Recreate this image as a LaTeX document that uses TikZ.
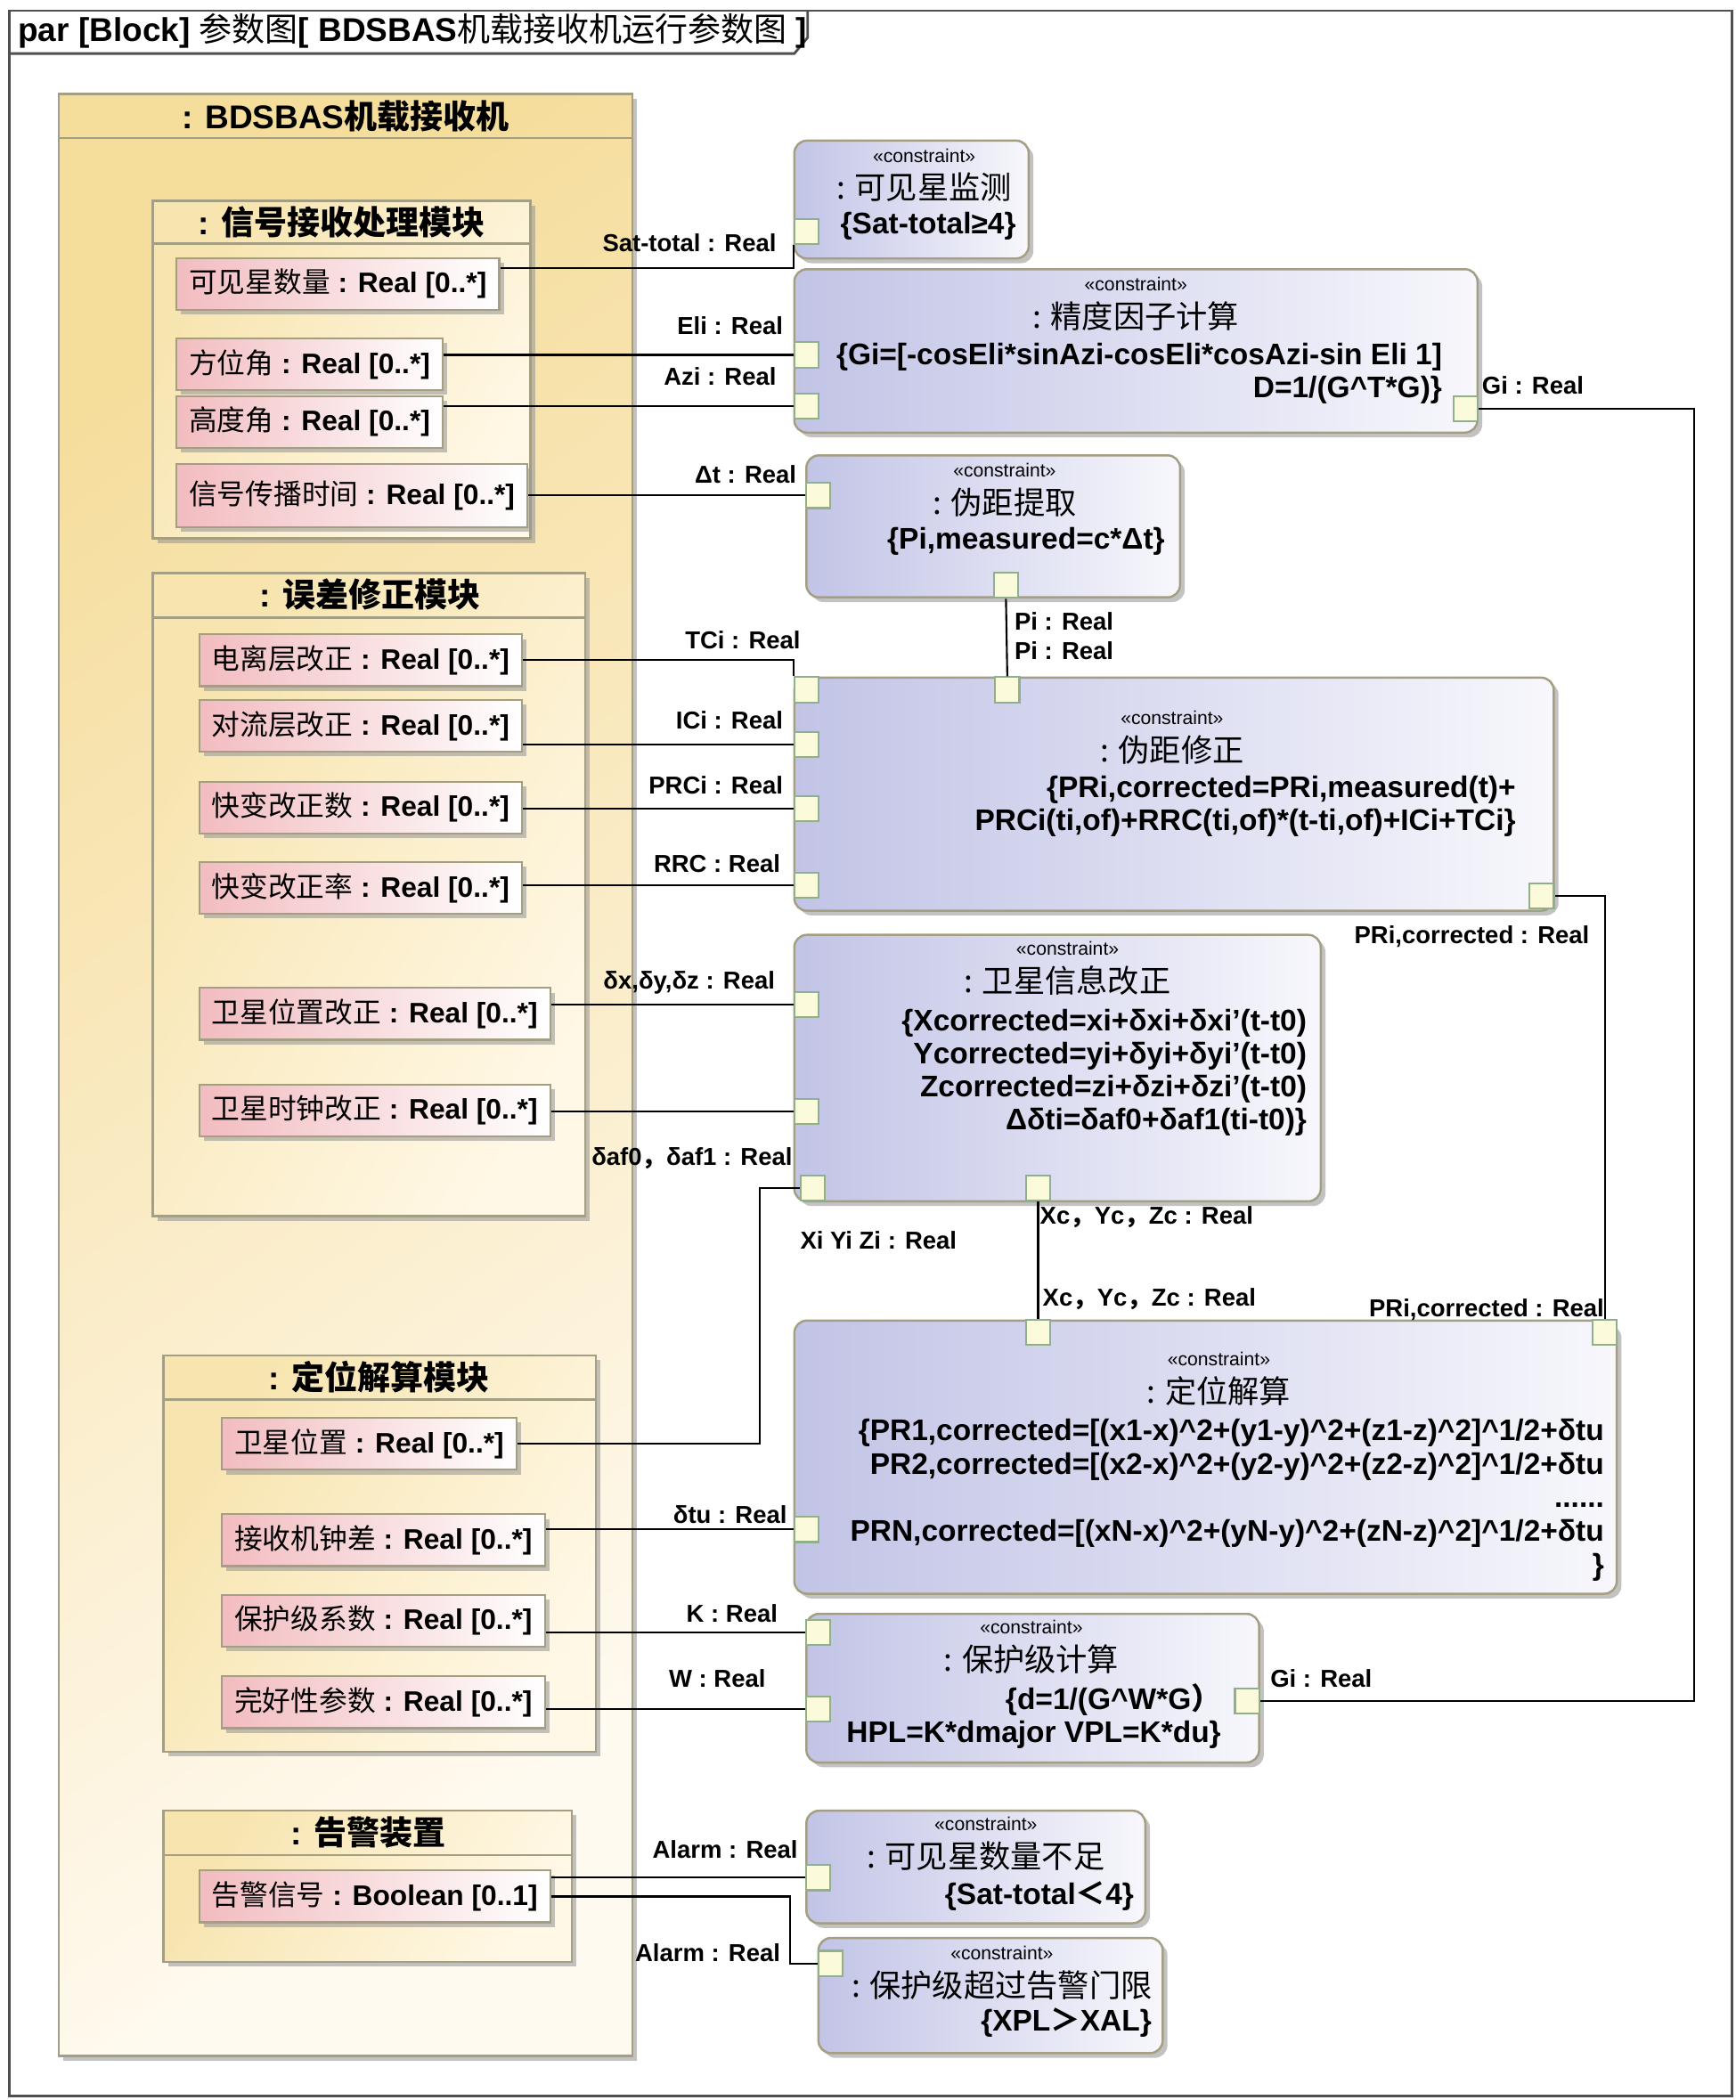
\documentclass[tikz,border=0pt]{standalone}
\usepackage{fontspec}
\setmainfont{Liberation Sans}
\newfontfamily\cjk{Noto Sans CJK SC}
\usepackage{tikz}
\usetikzlibrary{shapes,fit,calc,positioning,shadows}
\newcommand{\zh}[1]{{\cjk #1}}
\newcommand{\zhm}[1]{{\cjk\mdseries #1}}
\definecolor{frm}{HTML}{505050}
\definecolor{blkline}{HTML}{A49E82}
\definecolor{blkA}{HTML}{F5DD9C}
\definecolor{blkB}{HTML}{FFFAF0}
\definecolor{sblkA}{HTML}{F7E4AE}
\definecolor{sblkB}{HTML}{FFF8E6}
\definecolor{propA}{HTML}{F2BCC0}
\definecolor{consA}{HTML}{C2C4E6}
\definecolor{consB}{HTML}{F7F7FC}
\definecolor{portF}{HTML}{FBFBDC}
\definecolor{portD}{HTML}{8FB08A}
\definecolor{shd}{HTML}{9A9A9A}
\tikzset{shd/.style={drop shadow={shadow xshift=1.5pt,shadow yshift=-1.5pt,fill=shd,opacity=.6}}}
\tikzset{blk/.style={draw=blkline, line width=.7pt, inner sep=0pt, top color=blkA, bottom color=blkB, shading angle=35, shd}}
\tikzset{sblk/.style={draw=blkline, line width=.7pt, inner sep=0pt, top color=sblkA, bottom color=sblkB, shading angle=60, shd}}
\tikzstyle{prop}=[draw=blkline, line width=.6pt, anchor=west, left color=propA, right color=white, minimum height=16.5pt, inner xsep=4pt, inner ysep=0pt, font=\bfseries\fontsize{9}{10}\selectfont, shd]
\tikzstyle{cons}=[draw=blkline, line width=.7pt, rounded corners=4pt, inner sep=0pt, left color=consA, right color=consB, shd]
\tikzstyle{port}=[draw=portD, fill=portF, line width=.6pt, minimum width=7.7pt, minimum height=8pt, inner sep=0pt]
\tikzstyle{conn}=[draw=black, line width=.6pt]
\tikzstyle{lbl}=[font=\bfseries\fontsize{7.8}{9}\selectfont, inner sep=0pt]
\tikzstyle{stereo}=[font=\fontsize{6}{7}\selectfont, inner sep=0pt]
\tikzstyle{ctitle}=[font=\cjk\fontsize{10}{11}\selectfont, inner sep=0pt]
\tikzstyle{cbody}=[font=\bfseries\fontsize{9.5}{10.4}\selectfont, inner sep=0pt, align=right]
\tikzstyle{btitle}=[font=\bfseries\fontsize{10.5}{12}\selectfont, inner sep=0pt]
\begin{document}
\begin{tikzpicture}[x=0.015cm, y=-0.015cm]
\useasboundingbox (0,0) rectangle (1296,1568);
% frame
\draw[frm, line width=.8pt] (7,8) rectangle (1293,1565);
\draw[frm, line width=.8pt] (7,40) -- (593,40) -- (603,28) -- (603,8);
\node[btitle, anchor=west] (tab) at (13,23) {par [Block] \zhm{参数图}[ BDSBAS\zhm{机载接收机运行参数图} ]};

% receiver block
\node[blk, fit={(44,70) (472,1535)}] (rcv) {};
\draw[blkline, line width=.7pt] (44,103) -- (472,103);
\node[btitle] (rcvT) at (258,87) {: BDSBAS\zh{机载接收机}};

% signal module
\node[sblk, fit={(114,150) (396,402)}] (sigM) {};
\draw[blkline, line width=.7pt] (114,182) -- (396,182);
\node[btitle] (sigT) at (255,166) {: \zh{信号接收处理模块}};
\node[prop] (vis) at (131,212) {\zhm{可见星数量} : Real [0..*]};
\node[prop] (azi) at (131,272) {\zhm{方位角} : Real [0..*]};
\node[prop] (ele) at (131,315) {\zhm{高度角} : Real [0..*]};
\node[prop, minimum height=20pt] (sig) at (131,370) {\zhm{信号传播时间} : Real [0..*]};

% error module
\node[sblk, fit={(114,428) (437,908)}] (errM) {};
\draw[blkline, line width=.7pt] (114,461) -- (437,461);
\node[btitle] (errT) at (276,444) {: \zh{误差修正模块}};
\node[prop] (ion) at (148,493) {\zhm{电离层改正} : Real [0..*]};
\node[prop] (tro) at (148,542) {\zhm{对流层改正} : Real [0..*]};
\node[prop] (fcn) at (148,603) {\zhm{快变改正数} : Real [0..*]};
\node[prop] (fcr) at (148,663) {\zhm{快变改正率} : Real [0..*]};
\node[prop] (spc) at (148,757) {\zhm{卫星位置改正} : Real [0..*]};
\node[prop] (scc) at (148,829) {\zhm{卫星时钟改正} : Real [0..*]};

% positioning module
\node[sblk, fit={(122,1012) (445,1308)}] (posM) {};
\draw[blkline, line width=.7pt] (122,1045) -- (445,1045);
\node[btitle] (posT) at (283,1028) {: \zh{定位解算模块}};
\node[prop] (satpos) at (165,1078) {\zhm{卫星位置} : Real [0..*]};
\node[prop] (rcc) at (165,1150) {\zhm{接收机钟差} : Real [0..*]};
\node[prop] (plc) at (165,1210) {\zhm{保护级系数} : Real [0..*]};
\node[prop] (ipar) at (165,1271) {\zhm{完好性参数} : Real [0..*]};

% alarm
\node[sblk, fit={(122,1352) (427,1465)}] (almM) {};
\draw[blkline, line width=.7pt] (122,1385) -- (427,1385);
\node[btitle] (almT) at (275,1368) {: \zh{告警装置}};
\node[prop] (alm) at (148,1416) {\zhm{告警信号} : Boolean [0..1]};

% constraints
\node[cons, fit={(593,105) (768,193)}] (cSat) {};
\node[stereo] (cSatS) at (690,116) {«constraint»};
\node[ctitle, below=3pt of cSatS] (cSatT) {: 可见星监测};
\node[cbody] (cSatB) at (693,169) {\{Sat-total≥4\}};

\node[cons, fit={(593,201) (1103,323)}] (cDop) {};
\node[stereo] (cDopS) at (848,212) {«constraint»};
\node[ctitle, below=3pt of cDopS] (cDopT) {: 精度因子计算};
\node[cbody, anchor=north east] (cDopB) at (1077,256) {\{Gi=[-cosEli*sinAzi-cosEli*cosAzi-sin Eli 1]\\D=1/(G\^{}T*G)\}};

\node[cons, fit={(602,340) (881,446)}] (cPm) {};
\node[stereo] (cPmS) at (750,351) {«constraint»};
\node[ctitle, below=3pt of cPmS] (cPmT) {: 伪距提取};
\node[cbody] (cPmB) at (766,404) {\{Pi,measured=c*Δt\}};

\node[cons, fit={(593,506) (1160,680)}] (cPc) {};
\node[stereo] (cPcS) at (875,536) {«constraint»};
\node[ctitle, below=3pt of cPcS] (cPcT) {: 伪距修正};
\node[cbody, anchor=north east] (cPcB) at (1132,579) {\{PRi,corrected=PRi,measured(t)+\\PRCi(ti,of)+RRC(ti,of)*(t-ti,of)+ICi+TCi\}};

\node[cons, fit={(593,698) (986,897)}] (cSi) {};
\node[stereo] (cSiS) at (797,708) {«constraint»};
\node[ctitle, below=3pt of cSiS] (cSiT) {: 卫星信息改正};
\node[cbody, anchor=north east, font=\bfseries\fontsize{9.5}{10.5}\selectfont] (cSiB) at (976,753) {\{Xcorrected=xi+δxi+δxi'(t-t0)\\Ycorrected=yi+δyi+δyi'(t-t0)\\Zcorrected=zi+δzi+δzi'(t-t0)\\Δδti=δaf0+δaf1(ti-t0)\}};

\node[cons, fit={(593,986) (1207,1190)}] (cPos) {};
\node[stereo] (cPosS) at (910,1015) {«constraint»};
\node[ctitle, below=3pt of cPosS] (cPosT) {: 定位解算};
\node[cbody, anchor=north east, font=\bfseries\fontsize{9.5}{10.7}\selectfont] (cPosB) at (1198,1059) {\{PR1,corrected=[(x1-x)\^{}2+(y1-y)\^{}2+(z1-z)\^{}2]\^{}1/2+δtu\\PR2,corrected=[(x2-x)\^{}2+(y2-y)\^{}2+(z2-z)\^{}2]\^{}1/2+δtu\\......\\PRN,corrected=[(xN-x)\^{}2+(yN-y)\^{}2+(zN-z)\^{}2]\^{}1/2+δtu\\\}};

\node[cons, fit={(602,1205) (940,1316)}] (cPl) {};
\node[stereo] (cPlS) at (770,1215) {«constraint»};
\node[ctitle, below=3pt of cPlS] (cPlT) {: 保护级计算};
\node[cbody, anchor=north east] (cPlB) at (912,1257) {\{d=1/(G\^{}W*G\zh{）}\\HPL=K*dmajor VPL=K*du\}};

\node[cons, fit={(602,1352) (855,1436)}] (cAl1) {};
\node[stereo] (cAl1S) at (736,1362) {«constraint»};
\node[ctitle, below=3pt of cAl1S] (cAl1T) {: 可见星数量不足};
\node[cbody] (cAl1B) at (776,1416) {\{Sat-total\zh{＜}4\}};

\node[cons, fit={(611,1447) (868,1533)}] (cAl2) {};
\node[stereo] (cAl2S) at (748,1458) {«constraint»};
\node[ctitle, below=3pt of cAl2S] (cAl2T) {: 保护级超过告警门限};
\node[cbody] (cAl2B) at (796,1510) {\{XPL\zh{＞}XAL\}};

% ports
\node[port] (pSat) at (602,173) {};
\node[port] (pEli) at (602,265) {};
\node[port] (pAzi) at (602,303) {};
\node[port] (pGi) at (1094,305) {};
\node[port] (pDt) at (611,370) {};
\node[port] (pPi) at (751,437) {};
\node[port] (pPi2) at (752,515) {};
\node[port] (pTC) at (602,515) {};
\node[port] (pIC) at (602,556) {};
\node[port] (pPRC) at (602,604) {};
\node[port] (pRRC) at (602,661) {};
\node[port] (pPRc) at (1151,669) {};
\node[port] (pDx) at (602,750) {};
\node[port] (pAf) at (602,830) {};
\node[port] (pXi) at (607,887) {};
\node[port] (pXc) at (775,887) {};
\node[port] (pXc2) at (775,995) {};
\node[port] (pPR2) at (1198,995) {};
\node[port] (pTu) at (602,1142) {};
\node[port] (pK) at (611,1219) {};
\node[port] (pW) at (611,1276) {};
\node[port] (pGi2) at (931,1270) {};
\node[port] (pAl1) at (611,1402) {};
\node[port] (pAl2) at (620,1466) {};

% connectors
\draw[conn] ([yshift=5pt]vis.east) -| (pSat.south west);
\draw[conn] (azi.east |- pEli.west) -- (pEli.west);
\draw[conn] (ele.east |- pAzi.west) -- (pAzi.west);
\draw[conn] (sig.east |- pDt.west) -- (pDt.west);
\coordinate (giK) at (1265,305);
\draw[conn] (pGi.east) -- (giK) |- (pGi2.east);
\draw[conn] (pPi.south) -- (pPi2.north);
\draw[conn] (ion.east) -| (pTC.north west);
\draw[conn] (tro.east |- pIC.west) -- (pIC.west);
\draw[conn] (fcn.east |- pPRC.west) -- (pPRC.west);
\draw[conn] (fcr.east |- pRRC.west) -- (pRRC.west);
\draw[conn] (spc.east |- pDx.west) -- (pDx.west);
\draw[conn] (scc.east |- pAf.west) -- (pAf.west);
\coordinate (xiK) at (567,887);
\draw[conn] (pXi.west) -- (xiK) |- (satpos.east);
\draw[conn] (pXc.south) -- (pXc2.north);
\draw[conn] (pPRc.east) -| (pPR2.north);
\draw[conn] (rcc.east |- pTu.west) -- (pTu.west);
\draw[conn] (plc.east |- pK.west) -- (pK.west);
\draw[conn] (ipar.east |- pW.west) -- (pW.west);
\draw[conn] (alm.east |- pAl1.west) -- (pAl1.west);
\coordinate (almK) at (590,1416);
\draw[conn] (alm.east) -- (almK) |- (pAl2.west);

% labels
\node[lbl, anchor=east] (lSat) at (580,181) {Sat-total : Real};
\node[lbl, anchor=east] (lEli) at (585,243) {Eli : Real};
\node[lbl, anchor=east] (lAzi) at (580,281) {Azi : Real};
\node[lbl, anchor=west] (lGi) at (1106,288) {Gi : Real};
\node[lbl, anchor=east] (lDt) at (595,354) {Δt : Real};
\node[lbl, anchor=west] (lPi) at (757,464) {Pi : Real};
\node[lbl, anchor=west] (lPi2) at (757,486) {Pi : Real};
\node[lbl, anchor=east] (lTC) at (598,478) {TCi : Real};
\node[lbl, anchor=east] (lIC) at (585,538) {ICi : Real};
\node[lbl, anchor=east] (lPRC) at (585,586) {PRCi : Real};
\node[lbl, anchor=east] (lRRC) at (583,645) {RRC : Real};
\node[lbl, anchor=east] (lPRc) at (1187,699) {PRi,corrected : Real};
\node[lbl, anchor=east] (lDx) at (579,734) {δx,δy,δz : Real};
\node[lbl, anchor=east] (lAf) at (592,865) {δaf0\zh{，}δaf1 : Real};
\node[lbl, anchor=west] (lXi) at (597,926) {Xi Yi Zi : Real};
\node[lbl, anchor=west] (lXc) at (776,909) {Xc\zh{，}Yc\zh{，}Zc : Real};
\node[lbl, anchor=west] (lXc2) at (778,970) {Xc\zh{，}Yc\zh{，}Zc : Real};
\node[lbl, anchor=east] (lPR2) at (1198,978) {PRi,corrected : Real};
\node[lbl, anchor=east] (lTu) at (588,1131) {δtu : Real};
\node[lbl, anchor=east] (lK) at (581,1205) {K : Real};
\node[lbl, anchor=east] (lW) at (572,1253) {W : Real};
\node[lbl, anchor=west] (lGi2) at (948,1253) {Gi : Real};
\node[lbl, anchor=east] (lAl1) at (596,1381) {Alarm : Real};
\node[lbl, anchor=east] (lAl2) at (583,1458) {Alarm : Real};
\end{tikzpicture}
\end{document}
